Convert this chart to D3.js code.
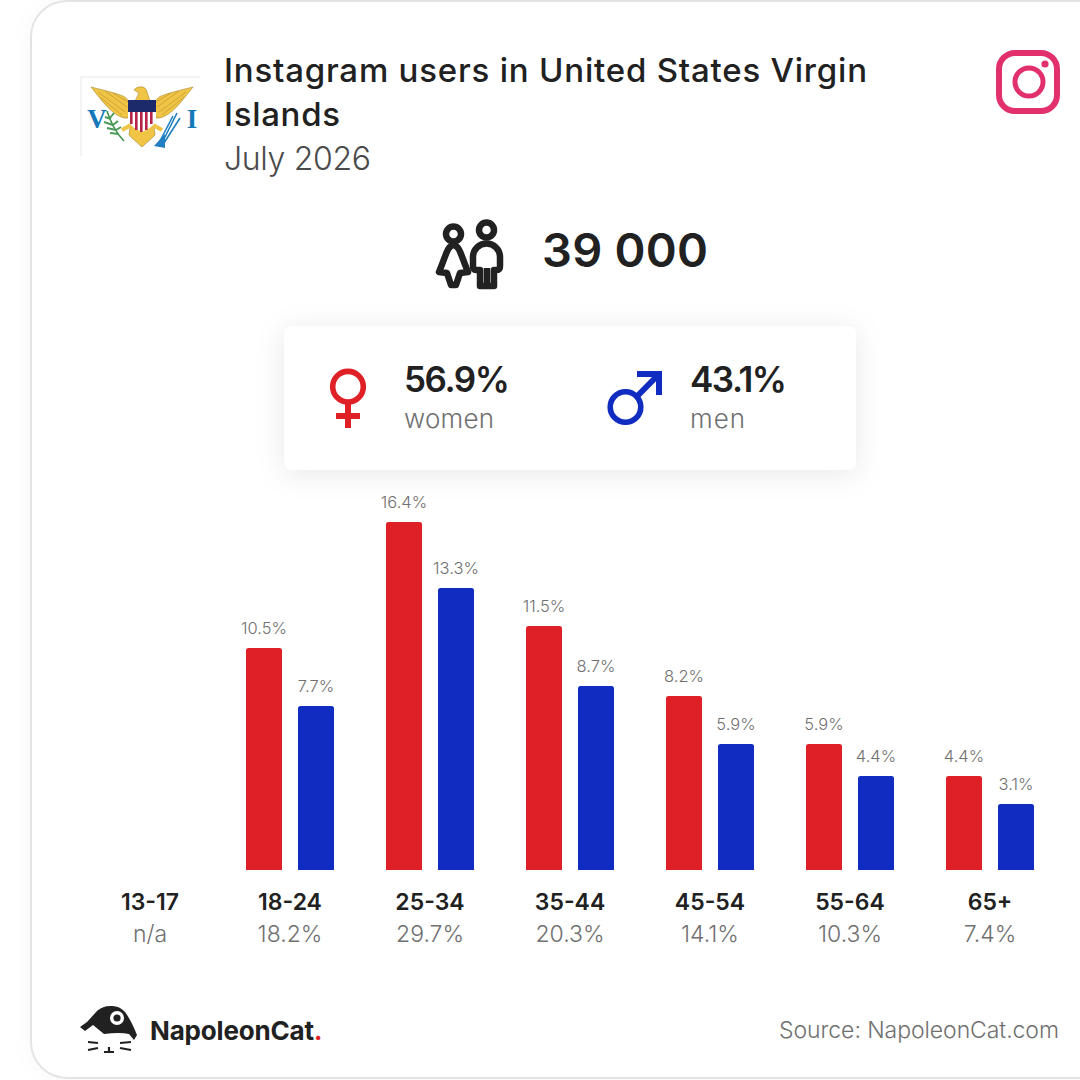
<!DOCTYPE html>
<html><head><meta charset="utf-8">
<script src="https://cdnjs.cloudflare.com/ajax/libs/d3/7.8.5/d3.min.js"></script>
<style>html,body{margin:0;padding:0;background:#fff}svg{display:block}text{font-family:Inter,"Open Sans",sans-serif}</style>
</head><body><div id="c"></div>
<script>
const ageGroups=["13-17","18-24","25-34","35-44","45-54","55-64","65+"];
const women=[null,10.5,16.4,11.5,8.2,5.9,4.4];
const men=[null,7.7,13.3,8.7,5.9,4.4,3.1];
const shares=["n/a","18.2%","29.7%","20.3%","14.1%","10.3%","7.4%"];
const titleLines=["Instagram users in United States Virgin","Islands"];
const subtitle="July 2026";
const total="39 000";
const womenShare="56.9%",menShare="43.1%";
const RED="#df2027",BLUE="#102cc1",DARK="#212121",GREY="#707070";

const svg=d3.select("#c").append("svg").attr("width",1080).attr("height",1080);
const defs=svg.append("defs");
const f=defs.append("filter").attr("id","sh").attr("x","-20%").attr("y","-40%").attr("width","140%").attr("height","180%");
f.append("feDropShadow").attr("dx",0).attr("dy",4).attr("stdDeviation",14).attr("flood-color","#000").attr("flood-opacity",0.09);
const f2=defs.append("filter").attr("id","sh2").attr("x","-10%").attr("y","-10%").attr("width","120%").attr("height","120%");
f2.append("feDropShadow").attr("dx",0).attr("dy",0).attr("stdDeviation",10).attr("flood-color","#000").attr("flood-opacity",0.03);

// card
svg.append("rect").attr("x",31).attr("y",1).attr("width",1200).attr("height",1077).attr("rx",36)
  .attr("fill","#fff").attr("stroke","#e4e4e4").attr("stroke-width",2).attr("filter","url(#sh2)");

function txt(s,x,y,size,weight,fill,anchor,len){
  const t=svg.append("text").attr("x",x).attr("y",y).attr("font-size",size).attr("font-weight",weight)
    .attr("fill",fill).attr("text-anchor",anchor||"start").text(s);
  if(len) t.attr("textLength",len).attr("lengthAdjust","spacing");
  return t;
}

// flag
const fl=svg.append("g");
fl.append("path").attr("d","M81 156V77H200").attr("fill","none").attr("stroke","#f0f0f0").attr("stroke-width",1.5);
const gold="#f0c445",gs="#a8862e";
const wing="M91 87C103 90 116 93 123 96C129 99 130 104 129 110L128 118L124 118C112 115 102 101 91 87Z";
const feathers="M98 92L125 112M105 91L127 107M113 93L128 102M100 97L122 115";
[0,1].forEach(i=>{
  const g=fl.append("g").attr("transform",i?"translate(284,0) scale(-1,1)":null);
  g.append("path").attr("d",wing).attr("fill",gold).attr("stroke",gs).attr("stroke-width",.6);
  g.append("path").attr("d",feathers).attr("fill","none").attr("stroke",gs).attr("stroke-width",.5);
});
fl.append("path").attr("d","M134 90C137 86 146 85 147 92L150 101H135L139 93Z").attr("fill",gold).attr("stroke",gs).attr("stroke-width",.6);
fl.append("path").attr("d","M130 126L129 135L132 138L142 147L152 138L155 135L154 126Z").attr("fill",gold).attr("stroke",gs).attr("stroke-width",.6);
fl.append("path").attr("d","M131 125L122 130M153 125L162 130").attr("stroke",gold).attr("stroke-width",4).attr("fill","none");
fl.append("path").attr("d","M128 112V120Q130 127 142 132Q154 127 156 120V112Z").attr("fill","#fff");
d3.range(5).forEach(i=>{fl.append("rect").attr("x",130+i*5).attr("y",112).attr("width",2.6).attr("height",i==2?20:i==1||i==3?18:12).attr("fill","#b5254a");});
fl.append("rect").attr("x",128).attr("y",100).attr("width",28).attr("height",12).attr("fill","#1c2a6b");
fl.append("path").attr("d","M107 111C111 122 115 132 124 141").attr("fill","none").attr("stroke","#3f8f4a").attr("stroke-width",1.6);
fl.append("path").attr("d","M105 117L111 119M104 122L113 125M107 128L116 130M110 133L119 134M114 113L110 118M118 121L113 125M121 127L116 130")
  .attr("fill","none").attr("stroke","#4c9a58").attr("stroke-width",2);
fl.append("path").attr("d","M177 113L162 143M180 118L164 143M173 116L160 141").attr("fill","none").attr("stroke","#1f7fc0").attr("stroke-width",1.6);
fl.append("path").attr("d","M154 146L165 134L165 148Z").attr("fill","#1f7fc0");
txt("V",97,128,27,"700","#1479b8","middle").style("font-family","'Liberation Serif',serif");
txt("I",192,128,27,"700","#1479b8","middle").style("font-family","'Liberation Serif',serif");

// instagram
const ig=svg.append("g").attr("fill","none").attr("stroke","#e1306c");
ig.append("rect").attr("x",999).attr("y",53).attr("width",58).attr("height",58).attr("rx",16).attr("stroke-width",6);
ig.append("circle").attr("cx",1029).attr("cy",82).attr("r",14).attr("stroke-width",5);
svg.append("circle").attr("cx",1045).attr("cy",64).attr("r",3.6).attr("fill","#e1306c");

// titles
titleLines.forEach((l,i)=>txt(l,224,82+i*44,33,"550",DARK,"start",i==0?643:116));
txt(subtitle,224,170,32,"300","#4a4a4a","start",147);

// people icon
const pe=svg.append("g").attr("fill","none").attr("stroke",DARK).attr("stroke-width",6.5).attr("stroke-linejoin","round");
pe.append("circle").attr("cx",453.5).attr("cy",234).attr("r",7.5);
pe.append("circle").attr("cx",486.5).attr("cy",230).attr("r",7.5);
pe.append("path").attr("d","M453.5 245C447 246 446 256 439 272L447 273L451 285H456L460 273L468 272C461 256 460 246 453.5 245Z");
pe.append("path").attr("d","M487 268V286M480 270H476Q473 270 473 266V257A13.5 13.5 0 0 1 500 257V266Q500 270 497 270H494V286H480Z");
txt(total,542,267,47,"600",DARK,"start",166);

// panel
svg.append("rect").attr("x",284).attr("y",326).attr("width",572).attr("height",144).attr("rx",8).attr("fill","#fff").attr("filter","url(#sh)");
const fe=svg.append("g");
fe.append("circle").attr("cx",348).attr("cy",386.7).attr("r",15.3).attr("fill","none").attr("stroke",RED).attr("stroke-width",5.6);
fe.append("rect").attr("x",345).attr("y",404).attr("width",6).attr("height",24).attr("fill",RED);
fe.append("rect").attr("x",336).attr("y",413).attr("width",24).attr("height",6).attr("fill",RED);
const ma=svg.append("g");
ma.append("circle").attr("cx",625.5).attr("cy",407).attr("r",15.3).attr("fill","none").attr("stroke",BLUE).attr("stroke-width",5.6);
ma.append("path").attr("d","M637 371H662V395H656V381.2L638 399.5L634 395.2L652 377H637Z").attr("fill",BLUE);
txt(womenShare,404,392,35,"600",DARK,"start",106);
txt("women",404,428,26,"300",GREY,"start",90);
txt(menShare,690,392,35,"600",DARK,"start",97);
txt("men",690,428,26,"300",GREY,"start",55);

// scales
const x=d3.scalePoint().domain(ageGroups).range([150,990]);
const y=d3.scaleLinear().domain([0,16.4]).range([870,522]);
const snap=v=>Math.round(y(v)/2)*2;
const barW=36;
function bars(vals,cls,color,off){
  const d=ageGroups.map((g,i)=>({g,v:vals[i]})).filter(o=>o.v!=null);
  const r=2.5;
  svg.selectAll("path."+cls).data(d).join("path").attr("class",cls).attr("fill",color)
    .attr("d",o=>{const X=x(o.g)+off,Y=snap(o.v),B=y(0);return `M${X} ${B}V${Y+r}Q${X} ${Y} ${X+r} ${Y}H${X+barW-r}Q${X+barW} ${Y} ${X+barW} ${Y+r}V${B}Z`;});
  svg.selectAll("text."+cls).data(d).join("text").attr("class",cls)
    .attr("x",o=>x(o.g)+off+barW/2).attr("y",o=>snap(o.v)-14).attr("text-anchor","middle")
    .attr("font-size",16.5).attr("font-weight",300).attr("fill",GREY).text(o=>o.v.toFixed(1)+"%");
}
bars(women,"w",RED,-44);
bars(men,"m",BLUE,8);

svg.selectAll("text.age").data(ageGroups).join("text").attr("class","age")
  .attr("x",d=>x(d)).attr("y",910).attr("text-anchor","middle").attr("font-size",23).attr("font-weight",600).attr("fill",DARK).text(d=>d);
svg.selectAll("text.sh").data(shares).join("text").attr("class","sh")
  .attr("x",(d,i)=>x(ageGroups[i])).attr("y",942).attr("text-anchor","middle").attr("font-size",23).attr("font-weight",300).attr("fill",GREY).text(d=>d);

// logo
const lg=svg.append("g");
lg.append("path").attr("d","M80 1027L87 1022L97 1011Q103 1006 110 1006Q119 1005 125 1012Q131 1020 137 1035L134 1040L129 1034Q120 1032 104 1034L93 1025L85 1031Z").attr("fill",DARK);
lg.append("circle").attr("cx",117).attr("cy",1018).attr("r",7).attr("fill","#fff");
lg.append("circle").attr("cx",117).attr("cy",1018).attr("r",3.6).attr("fill",DARK);
lg.append("path").attr("d","M88 1042L98 1043M88 1050L98 1048M131 1042L120 1043M131 1050L120 1048M104 1052H114M109 1047V1052")
  .attr("fill","none").attr("stroke",DARK).attr("stroke-width",2.2);
txt("NapoleonCat",150,1040,26,"700",DARK,"start",164);
svg.append("text").attr("x",314).attr("y",1040).attr("font-size",25).attr("font-weight",700).attr("fill",RED).text(".");
txt("Source: NapoleonCat.com",779,1038,23,"300",GREY,"start",280);
</script></body></html>
